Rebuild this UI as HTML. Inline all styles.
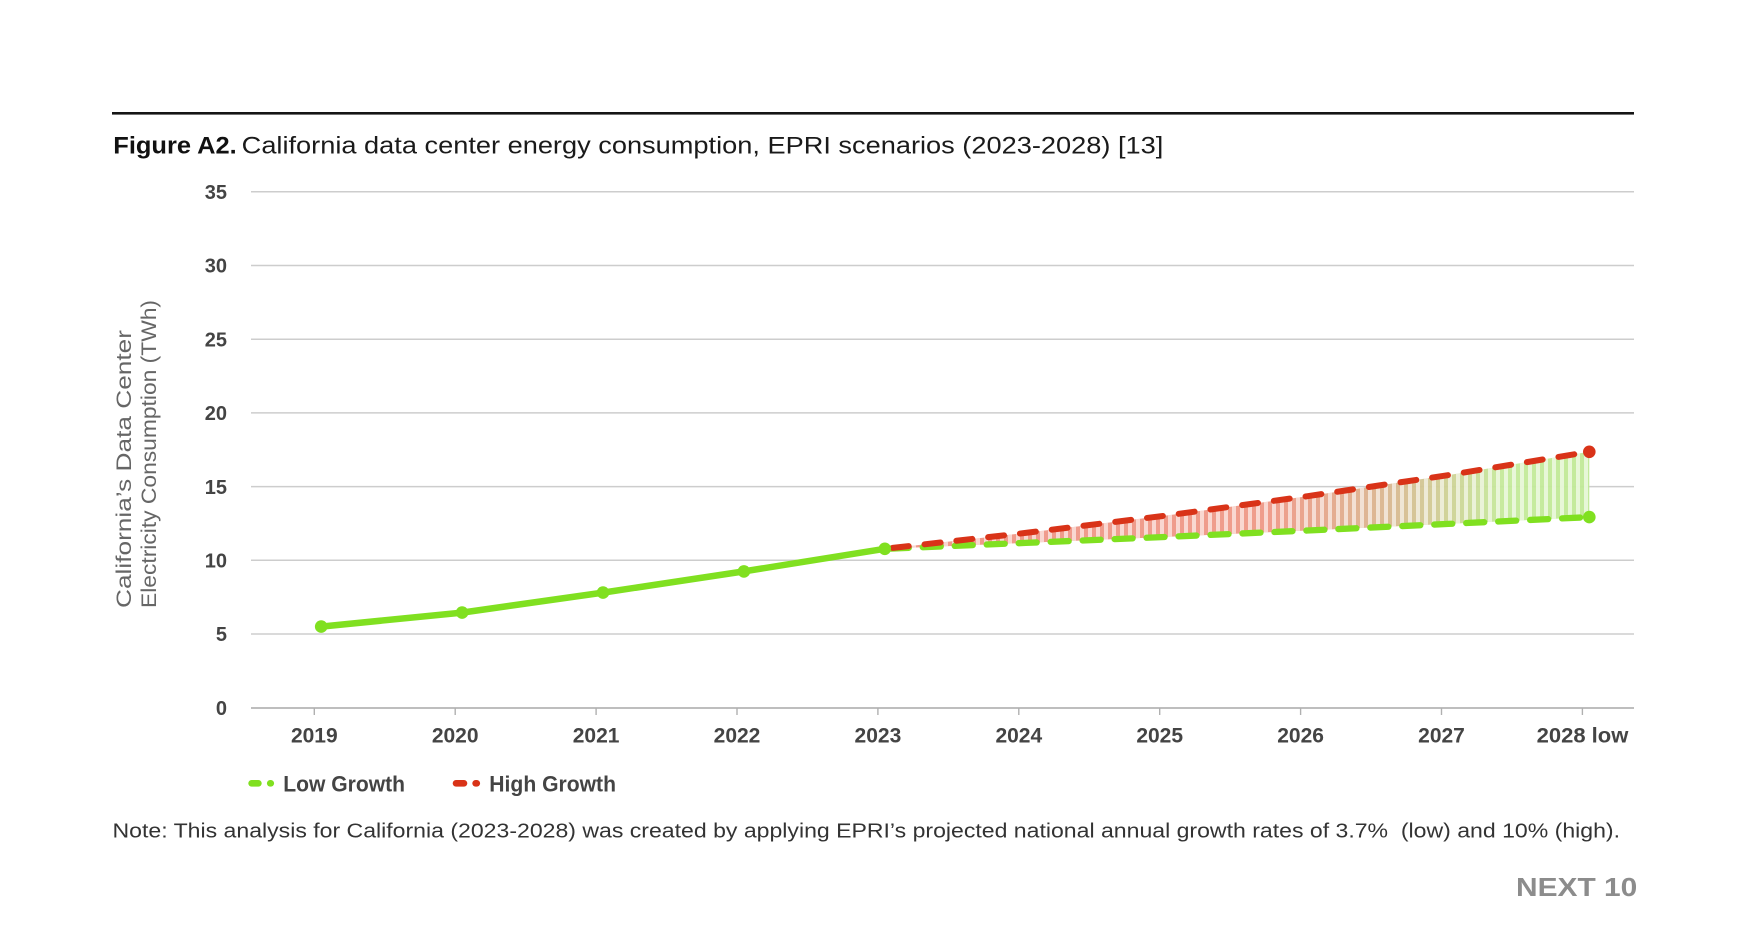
<!DOCTYPE html>
<html>
<head>
<meta charset="utf-8">
<style>
  html, body { margin: 0; padding: 0; background: #ffffff; }
  body { width: 1746px; height: 951px; overflow: hidden; }
  svg { display: block; }
  text { font-family: "Liberation Sans", "DejaVu Sans", sans-serif; }
</style>
</head>
<body>
<svg width="1746" height="951" viewBox="0 0 1746 951" xmlns="http://www.w3.org/2000/svg">
  <defs>
    <linearGradient id="bandGrad" gradientUnits="userSpaceOnUse" x1="884.8" y1="0" x2="1589.3" y2="0">
      <stop offset="0" stop-color="#ef9485"/>
      <stop offset="0.55" stop-color="#ee9886"/>
      <stop offset="0.72" stop-color="#d8b890"/>
      <stop offset="0.88" stop-color="#c4ea9a"/>
      <stop offset="1" stop-color="#c0e996"/>
    </linearGradient>
    <pattern id="stripes" patternUnits="userSpaceOnUse" x="0" y="0" width="8" height="10">
      <rect x="0" y="0" width="4" height="10" fill="#ffffff" fill-opacity="0.6"/>
    </pattern>
  </defs>

  <!-- top rule -->
  <rect x="112" y="112" width="1522" height="2.6" fill="#151515"/>

  <!-- title -->
  <text x="113.3" y="153.3" font-size="24" font-weight="bold" fill="#111" textLength="123.4" lengthAdjust="spacingAndGlyphs">Figure A2.</text>
  <text x="241.7" y="153.3" font-size="24" fill="#1a1a1a" textLength="921.6" lengthAdjust="spacingAndGlyphs">California data center energy consumption, EPRI scenarios (2023-2028) [13]</text>

  <!-- gridlines -->
  <g stroke="#cdcdcd" stroke-width="1.5">
    <line x1="251" y1="191.8" x2="1634" y2="191.8"/>
    <line x1="251" y1="265.5" x2="1634" y2="265.5"/>
    <line x1="251" y1="339.2" x2="1634" y2="339.2"/>
    <line x1="251" y1="412.9" x2="1634" y2="412.9"/>
    <line x1="251" y1="486.6" x2="1634" y2="486.6"/>
    <line x1="251" y1="560.3" x2="1634" y2="560.3"/>
    <line x1="251" y1="634.0" x2="1634" y2="634.0"/>
  </g>

  <!-- y tick labels -->
  <g font-size="20" font-weight="bold" fill="#444" text-anchor="end">
    <text x="227" y="199">35</text>
    <text x="227" y="272.7">30</text>
    <text x="227" y="346.4">25</text>
    <text x="227" y="420.1">20</text>
    <text x="227" y="493.8">15</text>
    <text x="227" y="567.5">10</text>
    <text x="227" y="641.2">5</text>
    <text x="227" y="714.9">0</text>
  </g>

  <!-- y axis title -->
  <g font-size="21" fill="#666">
    <text transform="translate(131,608) rotate(-90)" x="0" y="0" textLength="278" lengthAdjust="spacingAndGlyphs">California’s Data Center</text>
    <text transform="translate(156,608) rotate(-90)" x="0" y="0" textLength="308" lengthAdjust="spacingAndGlyphs">Electricity Consumption (TWh)</text>
  </g>

  <!-- band fill between scenarios -->
  <polygon points="884.8,548.8 1025.7,532.9 1166.6,515.5 1307.5,496.2 1448.4,475.1 1589.3,451.8 1589.3,517.1 1448.4,523.9 1307.5,530.5 1166.6,536.9 1025.7,542.9 884.8,548.8" fill="url(#bandGrad)" fill-opacity="0.95"/>
  <polygon points="884.8,548.8 1025.7,532.9 1166.6,515.5 1307.5,496.2 1448.4,475.1 1589.3,451.8 1589.3,517.1 1448.4,523.9 1307.5,530.5 1166.6,536.9 1025.7,542.9 884.8,548.8" fill="url(#stripes)"/>

  <!-- x axis -->
  <line x1="251" y1="708" x2="1634" y2="708" stroke="#a8a8a8" stroke-width="1.6"/>
  <g stroke="#b0b0b0" stroke-width="1.4">
    <line x1="314.3" y1="708" x2="314.3" y2="715"/>
    <line x1="455.2" y1="708" x2="455.2" y2="715"/>
    <line x1="596.1" y1="708" x2="596.1" y2="715"/>
    <line x1="737.0" y1="708" x2="737.0" y2="715"/>
    <line x1="877.9" y1="708" x2="877.9" y2="715"/>
    <line x1="1018.8" y1="708" x2="1018.8" y2="715"/>
    <line x1="1159.7" y1="708" x2="1159.7" y2="715"/>
    <line x1="1300.6" y1="708" x2="1300.6" y2="715"/>
    <line x1="1441.5" y1="708" x2="1441.5" y2="715"/>
    <line x1="1582.4" y1="708" x2="1582.4" y2="715"/>
  </g>
  <g font-size="21" font-weight="bold" fill="#444" text-anchor="middle">
    <text x="314.3" y="742.7">2019</text>
    <text x="455.2" y="742.7">2020</text>
    <text x="596.1" y="742.7">2021</text>
    <text x="737.0" y="742.7">2022</text>
    <text x="877.9" y="742.7">2023</text>
    <text x="1018.8" y="742.7">2024</text>
    <text x="1159.7" y="742.7">2025</text>
    <text x="1300.6" y="742.7">2026</text>
    <text x="1441.5" y="742.7">2027</text>
    <text x="1582.5" y="742.7" textLength="91.7" lengthAdjust="spacingAndGlyphs">2028 low</text>
  </g>

  <!-- historical solid line -->
  <polyline points="321.2,626.6 462.1,612.6 603.0,592.6 743.9,571.4 884.8,548.8" fill="none" stroke="#80e020" stroke-width="6.5" stroke-linejoin="round" stroke-linecap="round"/>

  <!-- low growth dashed -->
  <polyline points="884.8,548.8 1025.7,542.9 1166.6,536.9 1307.5,530.5 1448.4,523.9 1589.3,517.1" fill="none" stroke="#80e020" stroke-width="6.3" stroke-dasharray="18 14" stroke-dashoffset="-6" stroke-linecap="round" stroke-linejoin="round"/>

  <!-- high growth dashed -->
  <polyline points="884.8,548.8 1025.7,532.9 1166.6,515.5 1307.5,496.2 1448.4,475.1 1589.3,451.8" fill="none" stroke="#d93318" stroke-width="6" stroke-dasharray="16 16" stroke-dashoffset="-8" stroke-linecap="round" stroke-linejoin="round"/>

  <!-- markers -->
  <g fill="#80e020">
    <circle cx="321.2" cy="626.6" r="6.3"/>
    <circle cx="462.1" cy="612.6" r="6.3"/>
    <circle cx="603.0" cy="592.6" r="6.3"/>
    <circle cx="743.9" cy="571.4" r="6.3"/>
    <circle cx="884.8" cy="548.8" r="6.3"/>
    <circle cx="1589.3" cy="517.1" r="6.3"/>
  </g>
  <circle cx="1589.3" cy="451.8" r="6.3" fill="#d93318"/>

  <!-- legend -->
  <g stroke-linecap="round" stroke-width="6.6">
    <line x1="251.6" y1="783.3" x2="258.4" y2="783.3" stroke="#80e020"/>
    <line x1="270.2" y1="783.3" x2="270.8" y2="783.3" stroke="#80e020"/>
    <line x1="456" y1="783.3" x2="464" y2="783.3" stroke="#d93318"/>
    <line x1="475.6" y1="783.3" x2="476.8" y2="783.3" stroke="#d93318"/>
  </g>
  <g font-size="22" font-weight="bold" fill="#444">
    <text x="283.3" y="791.7" textLength="121.7" lengthAdjust="spacingAndGlyphs">Low Growth</text>
    <text x="489.3" y="791.7" textLength="126.7" lengthAdjust="spacingAndGlyphs">High Growth</text>
  </g>

  <!-- note -->
  <text x="112.5" y="837.3" font-size="20" fill="#333" textLength="1507.5" lengthAdjust="spacingAndGlyphs" xml:space="preserve">Note: This analysis for California (2023-2028) was created by applying EPRI’s projected national annual growth rates of 3.7%  (low) and 10% (high).</text>

  <!-- brand -->
  <text x="1516" y="896" font-size="26" font-weight="bold" fill="#8c8c8c" textLength="121.3" lengthAdjust="spacingAndGlyphs">NEXT 10</text>
</svg>
</body>
</html>
